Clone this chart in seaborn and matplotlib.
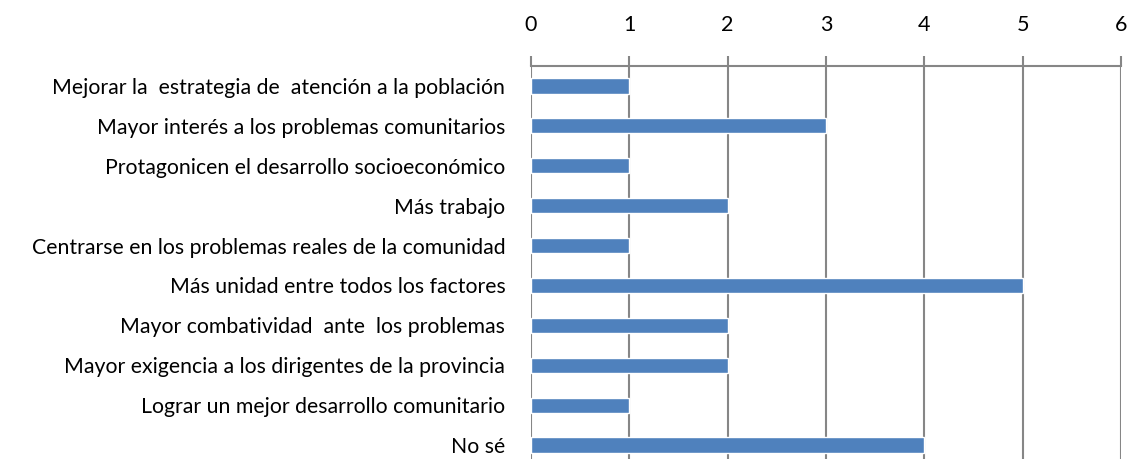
import matplotlib
matplotlib.use("Agg")
import matplotlib.pyplot as plt
import seaborn as sns
import pandas as pd

categories = [
    "Mejorar la  estrategia de  atención a la población",
    "Mayor interés a los problemas comunitarios",
    "Protagonicen el desarrollo socioeconómico",
    "Más trabajo",
    "Centrarse en los problemas reales de la comunidad",
    "Más unidad entre todos los factores",
    "Mayor combatividad  ante  los problemas",
    "Mayor exigencia a los dirigentes de la provincia",
    "Lograr un mejor desarrollo comunitario",
    "No sé",
]
values = [1, 3, 1, 2, 1, 5, 2, 2, 1, 4]
x_ticks = [0, 1, 2, 3, 4, 5, 6]

sns.set_theme(style="white")
plt.rcParams["font.family"] = ["Lato", "DejaVu Sans"]

df = pd.DataFrame({"cat": categories, "val": values})

fig = plt.figure(figsize=(11.29, 4.59), dpi=100)
ax = fig.add_axes([0.4703, -0.0131, 0.9929 - 0.4703, 0.8693])
sns.barplot(data=df, x="val", y="cat", orient="h", color="#4F81BD",
            saturation=1, width=0.38, ax=ax)

ax.set_xlim(0, 6)
ax.set_xticks(x_ticks)
ax.xaxis.tick_top()
ax.xaxis.set_label_position("top")
ax.set_xlabel("")
ax.set_ylabel("")
ax.grid(axis="x", color="#868686", linewidth=1.5)
ax.set_axisbelow(True)
for s in ["bottom", "right", "left"]:
    ax.spines[s].set_visible(False)
ax.spines["top"].set_color("#868686")
ax.spines["top"].set_linewidth(1.5)
ax.tick_params(axis="x", which="both", top=True, bottom=False, length=7,
               width=1.5, color="#868686", labelsize=15.5, pad=15.5, labelcolor="black")
ax.tick_params(axis="y", left=False, labelsize=15.3, pad=12.5, labelcolor="black")

fig.savefig("out.png", dpi=100)
